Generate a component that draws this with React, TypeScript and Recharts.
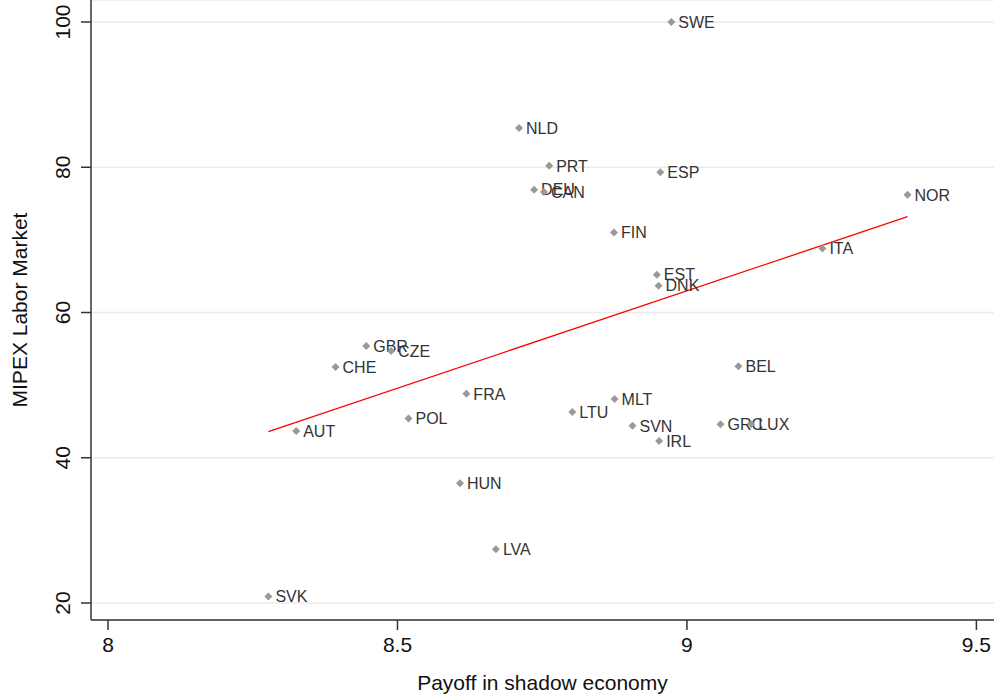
import { CartesianGrid, Scatter, ScatterChart, XAxis, YAxis } from "recharts";

const countries = ["SWE", "NLD", "PRT", "ESP", "DEU", "CAN", "NOR", "FIN", "ITA", "EST", "DNK", "GBR", "CZE", "CHE", "BEL", "FRA", "MLT", "LTU", "POL", "SVN", "GRC", "LUX", "AUT", "IRL", "HUN", "LVA", "SVK"];
const payoff = [8.973, 8.71, 8.762, 8.954, 8.736, 8.753, 9.381, 8.874, 9.234, 8.948, 8.951, 8.446, 8.489, 8.393, 9.089, 8.619, 8.875, 8.802, 8.519, 8.906, 9.058, 9.111, 8.325, 8.952, 8.608, 8.67, 8.277];
const mipex = [100, 85.4, 80.2, 79.3, 76.9, 76.6, 76.2, 71.0, 68.8, 65.2, 63.7, 55.4, 54.7, 52.5, 52.6, 48.8, 48.1, 46.3, 45.4, 44.4, 44.6, 44.6, 43.7, 42.3, 36.5, 27.4, 20.9];

const fitX = [8.277, 9.381];
const fitY = [43.6, 73.2];

const xTicks = [8, 8.5, 9, 9.5];
const yTicks = [20, 40, 60, 80, 100];

const points = countries.map((c, i) => ({ name: c, x: payoff[i], y: mipex[i] }));
const fit = fitX.map((x, i) => ({ x, y: fitY[i] }));

const font = "'Liberation Sans', Arial, Helvetica, sans-serif";

function Marker(props: any) {
  const { cx, cy, payload } = props;
  const r = 4;
  return (
    <g>
      <path d={`M${cx},${cy - r}L${cx + r},${cy}L${cx},${cy + r}L${cx - r},${cy}Z`} fill="#999" />
      <text x={cx + 7} y={cy + 5.7} fontSize={16} fill="#333" fontFamily={font}>
        {payload.name}
      </text>
    </g>
  );
}

function YTick(props: any) {
  const { x, y, payload } = props;
  return (
    <text x={x} y={y} transform={`rotate(-90, ${x}, ${y})`} textAnchor="middle" fontSize={21} fill="#111" fontFamily={font}>
      {payload.value}
    </text>
  );
}

export default function App() {
  return (
    <div style={{ position: "absolute", left: 0, top: 0, background: "#fff" }}>
      <ScatterChart width={994} height={700} margin={{ top: 0, right: 0, left: 0, bottom: 0 }}>
        <CartesianGrid horizontal vertical={false} stroke="#ebebeb" strokeWidth={1.5} />
        <XAxis
          type="number"
          dataKey="x"
          domain={[7.9706, 9.5304]}
          ticks={xTicks}
          allowDataOverflow
          height={80}
          tickSize={10}
          tickMargin={7}
          stroke="#333"
          strokeWidth={1.5}
          tick={{ fontSize: 21, fill: "#111", fontFamily: font }}
          label={{ value: "Payoff in shadow economy", position: "insideBottom", offset: 10, fontSize: 21, fill: "#111", fontFamily: font }}
        />
        <YAxis
          type="number"
          dataKey="y"
          domain={[17.66, 103.03]}
          ticks={yTicks}
          allowDataOverflow
          width={91}
          tickSize={10}
          tickMargin={11}
          stroke="#333"
          strokeWidth={1.5}
          tick={<YTick />}
          label={{ value: "MIPEX Labor Market", angle: -90, position: "insideLeft", offset: 20, fontSize: 21, fill: "#111", fontFamily: font, style: { textAnchor: "middle" } }}
        />
        <Scatter data={fit} line={{ stroke: "#ff0000", strokeWidth: 1.3 }} shape={() => <g />} isAnimationActive={false} />
        <Scatter data={points} shape={<Marker />} isAnimationActive={false} />
      </ScatterChart>
    </div>
  );
}
